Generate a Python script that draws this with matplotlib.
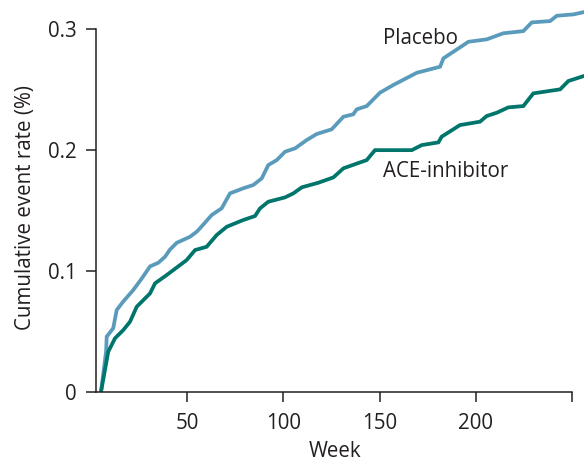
"""Cumulative event rate, ACE-inhibitor vs placebo, by week."""
import matplotlib
matplotlib.use('Agg')
import matplotlib.pyplot as plt

plt.rcParams['font.family'] = ['Open Sans', 'DejaVu Sans']

# values
placebo_week = [5.3, 8.0, 8.3, 11.7, 13.5, 16.9, 22.1, 26.5, 30.8, 35.1, 38.6, 41.2,
                44.7, 51.6, 55.0, 56.7, 62.8, 68.0, 72.3, 79.2, 84.4, 88.8, 92.2,
                96.6, 100.9, 106.1, 112.1, 117.3, 125.1, 131.2, 136.3, 138.1, 143.3,
                150.2, 157.1, 169.3, 181.4, 183.1, 196.1, 205.6, 214.2, 224.6, 229.0,
                238.5, 242.0, 250.6, 256.0]
placebo_rate = [0, 0.034, 0.046, 0.053, 0.068, 0.075, 0.0845, 0.094, 0.104, 0.107,
                0.112, 0.118, 0.1235, 0.1285, 0.1326, 0.1354, 0.1464, 0.152, 0.1643,
                0.1685, 0.1712, 0.1767, 0.1877, 0.1918, 0.1987, 0.2015, 0.2083,
                0.2133, 0.2172, 0.2276, 0.2296, 0.2337, 0.2364, 0.2475, 0.2538,
                0.2639, 0.2689, 0.2758, 0.2895, 0.2915, 0.2965, 0.2983, 0.3055,
                0.3066, 0.311, 0.3121, 0.314]

ace_week = [5.3, 9.1, 12.6, 16.9, 20.4, 23.9, 30.8, 33.4, 39.5, 49.8, 54.2, 60.2,
            65.4, 70.6, 79.2, 85.3, 87.9, 92.2, 100.9, 105.2, 109.6, 118.2, 126.0,
            131.2, 143.3, 147.6, 166.7, 171.9, 180.5, 182.2, 191.7, 202.1, 205.6,
            210.8, 216.8, 224.6, 229.8, 243.7, 248.0, 256.0]
ace_rate = [0, 0.0335, 0.0446, 0.0514, 0.0583, 0.0707, 0.0817, 0.09, 0.0969, 0.1092,
            0.1175, 0.1202, 0.1299, 0.1367, 0.1423, 0.1456, 0.1519, 0.1574, 0.161,
            0.1643, 0.1693, 0.1731, 0.1775, 0.185, 0.1918, 0.2, 0.2, 0.2042, 0.2064,
            0.2111, 0.2207, 0.2235, 0.2282, 0.2309, 0.2353, 0.2364, 0.2469, 0.2502,
            0.2571, 0.2612]

x_ticks = [50, 100, 150, 200, 250]
x_tick_labels = ['50', '100', '150', '200', '']
y_ticks = [0, 0.1, 0.2, 0.3]
y_tick_labels = ['0', '0.1', '0.2', '0.3']

BLUE = '#5a9bbc'
TEAL = '#00756b'
INK = '#231f20'
FS = 14.8

fig = plt.figure(figsize=(5.84, 4.61), dpi=100)
ax = fig.add_axes([0.1644, 0.149, 0.8356, 0.851])

ax.plot(placebo_week, placebo_rate, color=BLUE, lw=2.7, solid_joinstyle='miter')
ax.plot(ace_week, ace_rate, color=TEAL, lw=2.7, solid_joinstyle='miter')

ax.set_xlim(2.75, 256.1)
ax.set_ylim(0, 0.324)
for s in ('top', 'right'):
    ax.spines[s].set_visible(False)
ax.spines['left'].set_bounds(0, 0.3)
ax.spines['bottom'].set_bounds(2.75, 250)
for s in ('left', 'bottom'):
    ax.spines[s].set_linewidth(1.1)
    ax.spines[s].set_color(INK)

ax.set_xticks(x_ticks, x_tick_labels)
ax.set_yticks(y_ticks, y_tick_labels)
ax.tick_params(axis='both', length=7, width=1.1, color=INK, labelsize=FS,
               labelcolor=INK)
ax.tick_params(axis='x', pad=8)
ax.tick_params(axis='y', pad=7)

ax.set_xlabel('Week', fontsize=FS, color=INK)
ax.set_ylabel('Cumulative event rate (%)', fontsize=FS, color=INK)
ax.xaxis.set_label_coords(0.489, -0.124)
ax.yaxis.set_label_coords(-0.122, 0.47)

ax.text(151.9, 0.2925, 'Placebo', fontsize=FS, color=INK, va='center', ha='left')
ax.text(151.9, 0.1822, 'ACE-inhibitor', fontsize=FS, color=INK, va='center', ha='left')

fig.savefig('out.png', dpi=100)
